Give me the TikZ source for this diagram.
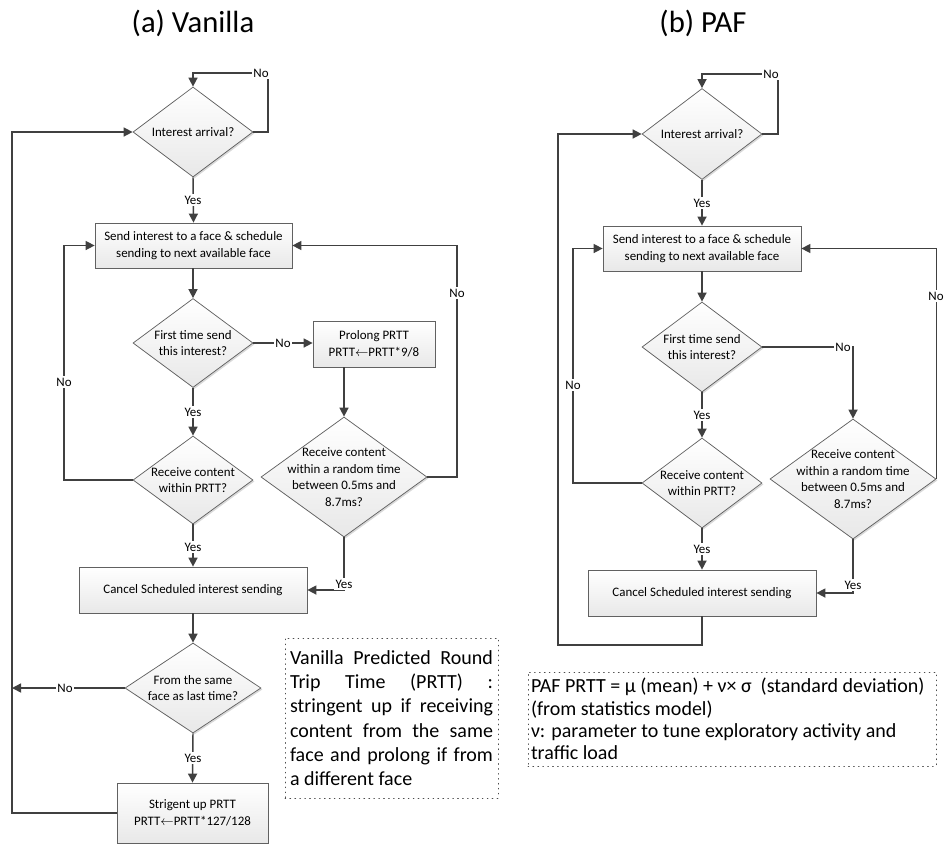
\documentclass[tikz,border=0pt]{standalone}
\usepackage{fontspec}
\setmainfont{Carlito}
\usetikzlibrary{arrows.meta,shapes.geometric,shadows,calc}
\newdimen\px \px=0.75pt
\newcommand\ndfont{\fontsize{9.7}{12.5}\selectfont}
\newcommand\notefont{\fontsize{15}{18.2}\selectfont}
\newcommand\ttlfont{\fontsize{23}{26}\selectfont}
\newcommand\la{\ensuremath{\leftarrow}}
\tikzset{
  shp/.style={draw=black!62, line width=0.55pt, top color=white, bottom color=black!9,
     drop shadow={shadow xshift=1.1pt, shadow yshift=-1.1pt, opacity=0.25, fill=black!60}},
  dec/.style={shp, diamond, inner sep=0pt, aspect=1.33},
  procbox/.style={shp, rectangle, inner sep=0pt, align=center, font=\ndfont},
  dtxt/.style={align=center, font=\ndfont, inner sep=0pt},
  conn/.style={draw=black!75, line width=1.1pt},
  arr/.style={conn, -{Triangle[length=6.8pt,width=6.8pt]}},
  lab/.style={fill=white, inner sep=1pt, font=\ndfont},
  note/.style={draw=black!70, line width=0.7pt, dash pattern=on 0.5pt off 3.2pt, line cap=round,
     font=\notefont},
}
\begin{document}
\begin{tikzpicture}[x=0.75pt,y=-0.75pt]
\useasboundingbox (0,0) rectangle (944,846);

% titles
\node[font=\ttlfont] (ta) at (193,23) {(a) Vanilla};
\node[font=\ttlfont] (tb) at (703,23) {(b) PAF};

% ---------------- (a) Vanilla ----------------
\node[dec, minimum width=120\px, minimum height=90\px] (a1) at (193,132) {};
\node[dtxt] (a1t) at (a1) {Interest arrival?};
\node[procbox, minimum width=197\px, minimum height=45\px] (a2) at (193.5,245.5)
  {Send interest to a face \& schedule\\sending to next available face};
\node[dec, minimum width=120\px, minimum height=89\px] (a3) at (193,343) {};
\node[dtxt] (a3t) at (a3) {First time send\\this interest?};
\node[procbox, minimum width=122\px, minimum height=46\px] (a4) at (374,344)
  {Prolong PRTT\\PRTT\la PRTT*9/8};
\node[dec, minimum width=120\px, minimum height=88\px] (a5) at (193,480) {};
\node[dtxt] (a5t) at (a5) {Receive content\\within PRTT?};
\node[dec, minimum width=166\px, minimum height=120\px] (a6) at (344,477) {};
\node[dtxt] (a6t) at (a6) {Receive content\\within a random time\\between 0.5ms and\\8.7ms?};
\node[procbox, minimum width=228\px, minimum height=46\px] (a7) at (193,590)
  {Cancel Scheduled interest sending};
\node[dec, minimum width=136\px, minimum height=90\px] (a8) at (193,688) {};
\node[dtxt] (a8t) at (a8) {From the same\\face as last time?};
\node[procbox, minimum width=151\px, minimum height=60\px] (a9) at (192.5,813)
  {Strigent up PRTT\\PRTT\la PRTT*127/128};

\node[note, text width=203\px, minimum height=160\px, inner xsep=5\px, inner ysep=2pt, align=justify]
  (na) at (391.5,718)
  {\hyphenpenalty=10000\exhyphenpenalty=10000
   Vanilla Predicted Round\linebreak Trip Time (PRTT) :\linebreak stringent up if receiving\linebreak
   content from the same\linebreak face and prolong if from\linebreak a different face\par};

% connectors (a)
\draw[arr] (a1.east) -| (268,73) -| (a1.north);
\node[lab] (la1) at (261,73) {No};
\draw[arr] (a1.south) -- (a2.north);
\node[lab] (la2) at (193,200) {Yes};
\draw[arr] (a2.south -| a3.north) -- (a3.north);
\draw[arr] (a3.east) -- (a3.east -| a4.west);
\node[lab] (la3) at (283,343) {No};
\draw[arr] (a4.south -| a6.north) -- (a6.north);
\draw[arr] (a6.east) -- (457,477) |- (a2.east);
\node[lab] (la4) at (457,293) {No};
\draw[arr] (a3.south) -- (a5.north);
\node[lab] (la5) at (193,412) {Yes};
\draw[arr] (a5.west) -- (64,480) |- (a2.west);
\node[lab] (la6) at (64,382) {No};
\draw[arr] (a5.south) -- (a7.north);
\node[lab] (la7) at (193,547) {Yes};
\draw[arr] (a6.south) |- (a7.east);
\node[lab] (la8) at (344,584) {Yes};
\draw[arr] (a7.south) -- (a8.north);
\coordinate (ja) at (12,688);
\draw[arr] (a8.west) -- (ja);
\node[lab] (la9) at (65,688) {No};
\draw[arr] (a8.south) -- (a9.north);
\node[lab] (la10) at (193,758) {Yes};
\draw[arr] (a9.west) -- (12,813) |- (a1.west);

% ---------------- (b) PAF ----------------
\node[dec, minimum width=120\px, minimum height=91\px] (b1) at (702,134) {};
\node[dtxt] (b1t) at (b1) {Interest arrival?};
\node[procbox, minimum width=198\px, minimum height=45\px] (b2) at (702,248.5)
  {Send interest to a face \& schedule\\sending to next available face};
\node[dec, minimum width=120\px, minimum height=90\px] (b3) at (702,347) {};
\node[dtxt] (b3t) at (b3) {First time send\\this interest?};
\node[dec, minimum width=120\px, minimum height=90\px] (b5) at (702,483) {};
\node[dtxt] (b5t) at (b5) {Receive content\\within PRTT?};
\node[dec, minimum width=166\px, minimum height=120\px] (b6) at (853,479) {};
\node[dtxt] (b6t) at (b6) {Receive content\\within a random time\\between 0.5ms and\\8.7ms?};
\node[procbox, minimum width=228\px, minimum height=46\px] (b7) at (702,593)
  {Cancel Scheduled interest sending};

\node[note, text width=402\px, minimum height=94\px, inner xsep=3\px, inner ysep=2pt, align=flush left,
      font=\fontsize{15}{16.7}\selectfont]
  (nb) at (732,719)
  {\mbox{PAF PRTT = μ (mean) + ν× σ~ (standard deviation)}\\(from statistics model)\\\mbox{ν: parameter to tune exploratory activity and}\\traffic load};

% connectors (b)
\draw[arr] (b1.east) -| (778,74) -| (b1.north);
\node[lab] (lb1) at (771,74) {No};
\draw[arr] (b1.south) -- (b2.north);
\node[lab] (lb2) at (702,203) {Yes};
\draw[arr] (b2.south) -- (b3.north);
\draw[arr] (b3.east) -| (b6.north);
\node[lab] (lb3) at (843,347) {No};
\draw[arr] (b6.east) |- (b2.east);
\node[lab] (lb4) at (936,296) {No};
\draw[arr] (b3.south) -- (b5.north);
\node[lab] (lb5) at (702,415) {Yes};
\draw[arr] (b5.west) -- (573,483) |- (b2.west);
\node[lab] (lb6) at (573,385) {No};
\draw[arr] (b5.south) -- (b7.north);
\node[lab] (lb7) at (702,549) {Yes};
\draw[arr] (b6.south) |- (b7.east);
\node[lab] (lb8) at (853,585) {Yes};
\draw[arr] (b7.south) -- (702,645) -- (558,645) |- (b1.west);
\end{tikzpicture}
\end{document}
